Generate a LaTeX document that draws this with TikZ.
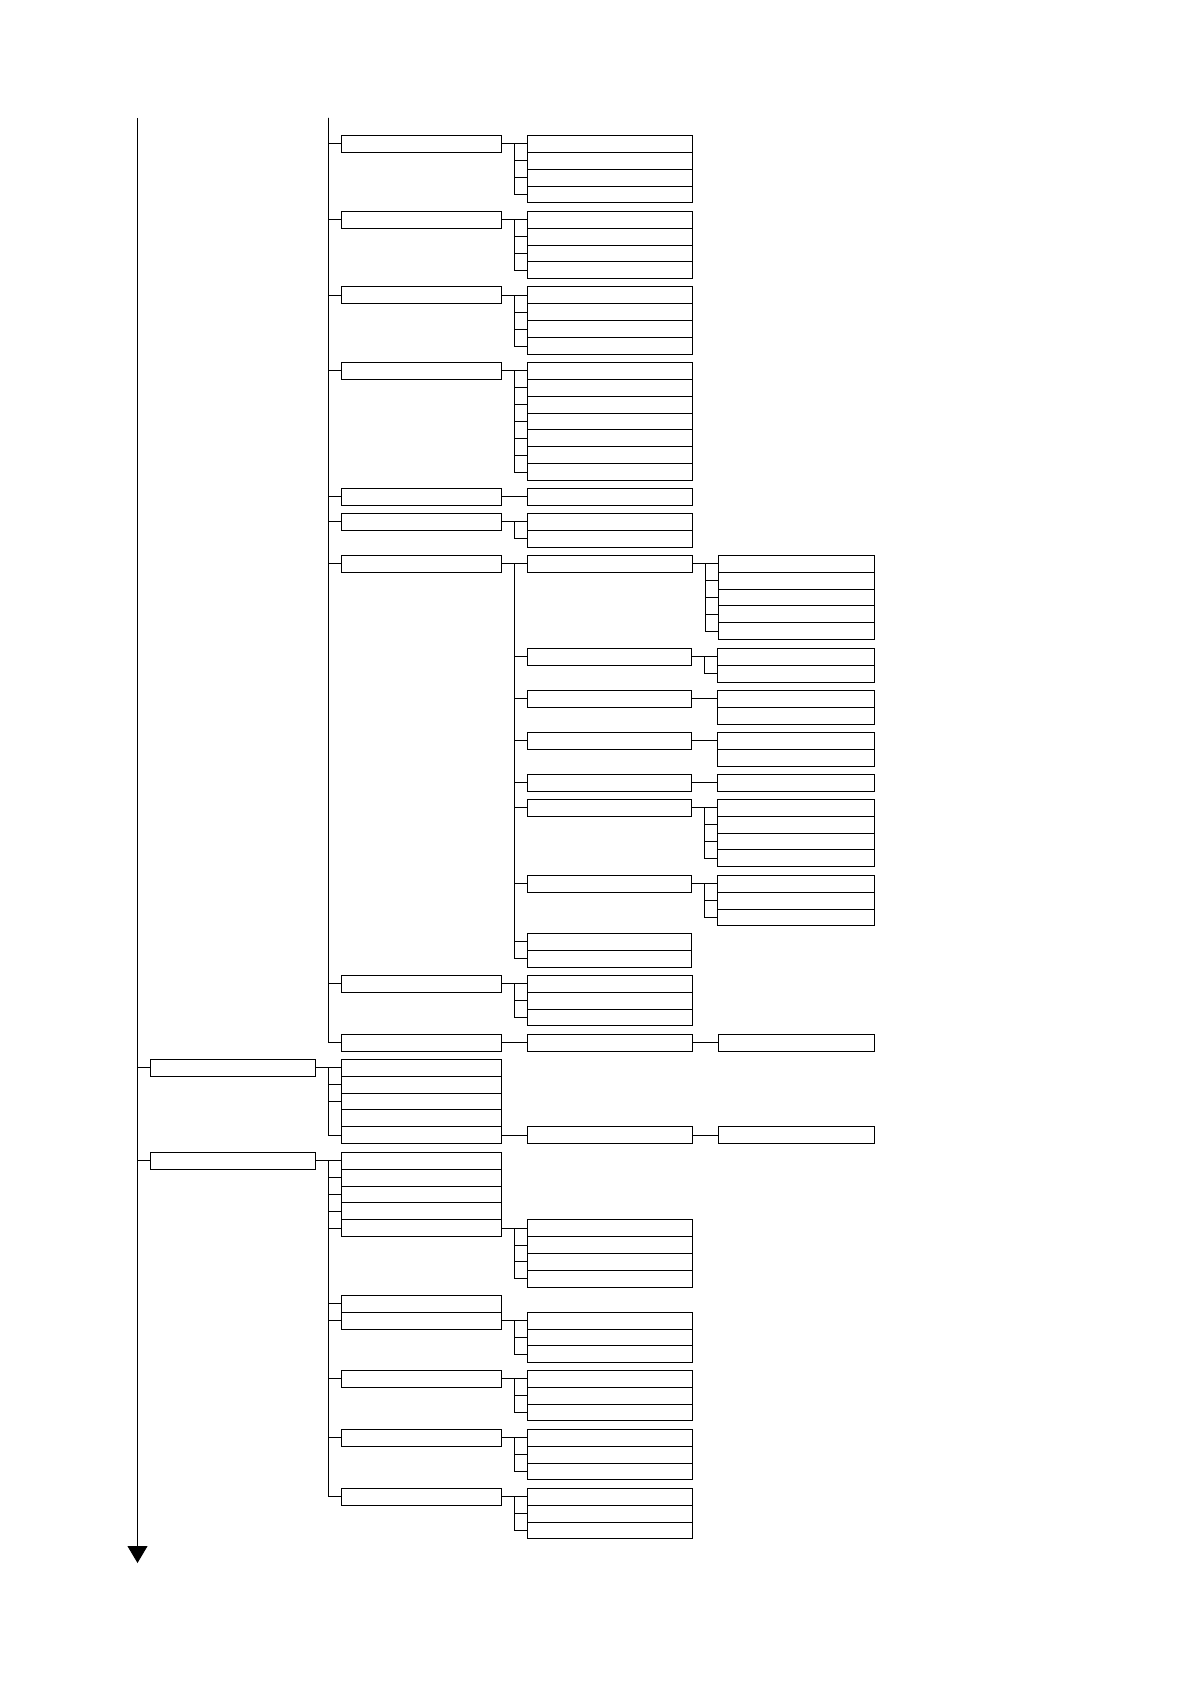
\documentclass[tikz,border=0pt]{standalone}
\usepackage{tikz}
\usetikzlibrary{arrows.meta,positioning}

\begin{document}
\begin{tikzpicture}[x=0.5pt,y=-0.5pt,
  cell/.style={draw,line width=0.5pt,inner sep=0pt,outer sep=0pt,minimum height=8.43pt},
  rootbox/.style={cell,minimum width=82.5pt},
  midbox/.style={cell,minimum width=80.2pt},
  subbox/.style={cell,minimum width=82.2pt},
  leafbox/.style={cell,minimum width=78.4pt},
  link/.style={line width=0.5pt},
  axis/.style={line width=0.4pt,-{Triangle[length=8.5pt,width=10pt]}}]
  \useasboundingbox (0,0) rectangle (1191,1684);
  \coordinate (head) at (137.5,118);
  \coordinate (tail) at (137.5,1563);
  \coordinate (spine) at (328.7,118);
  % first block, its parent lies above the page
  \node[midbox,anchor=north west] (a1) at (341.3,135.5) {};
  \node[subbox,right=13pt of a1] (a1a) {};
  \node[subbox,below=0pt of a1a] (a1b) {};
  \node[subbox,below=0pt of a1b] (a1c) {};
  \node[subbox,below=0pt of a1c] (a1d) {};
  \node[midbox,anchor=north west] (a2) at (341.3,211.3) {};
  \node[subbox,right=13pt of a2] (a2a) {};
  \node[subbox,below=0pt of a2a] (a2b) {};
  \node[subbox,below=0pt of a2b] (a2c) {};
  \node[subbox,below=0pt of a2c] (a2d) {};
  \node[midbox,anchor=north west] (a3) at (341.3,287) {};
  \node[subbox,right=13pt of a3] (a3a) {};
  \node[subbox,below=0pt of a3a] (a3b) {};
  \node[subbox,below=0pt of a3b] (a3c) {};
  \node[subbox,below=0pt of a3c] (a3d) {};
  \node[midbox,anchor=north west] (a4) at (341.3,362.5) {};
  \node[subbox,right=13pt of a4] (a4a) {};
  \node[subbox,below=0pt of a4a] (a4b) {};
  \node[subbox,below=0pt of a4b] (a4c) {};
  \node[subbox,below=0pt of a4c] (a4d) {};
  \node[subbox,below=0pt of a4d] (a4e) {};
  \node[subbox,below=0pt of a4e] (a4f) {};
  \node[subbox,below=0pt of a4f] (a4g) {};
  \node[midbox,anchor=north west] (a5) at (341.3,488.3) {};
  \node[subbox,right=13pt of a5] (a5a) {};
  \node[midbox,anchor=north west] (a6) at (341.3,513.3) {};
  \node[subbox,right=13pt of a6] (a6a) {};
  \node[subbox,below=0pt of a6a] (a6b) {};
  \node[midbox,anchor=north west] (a7) at (341.3,555.3) {};
  \node[subbox,right=13pt of a7] (a7a) {};
  \node[leafbox,right=13pt of a7a] (a7a1) {};
  \node[leafbox,below=0pt of a7a1] (a7a2) {};
  \node[leafbox,below=0pt of a7a2] (a7a3) {};
  \node[leafbox,below=0pt of a7a3] (a7a4) {};
  \node[leafbox,below=0pt of a7a4] (a7a5) {};
  \node[subbox,anchor=north west] (a7b) at (527.3,648.3) {};
  \node[leafbox,right=13pt of a7b] (a7b1) {};
  \node[leafbox,below=0pt of a7b1] (a7b2) {};
  \node[subbox,anchor=north west] (a7c) at (527.3,690.3) {};
  \node[leafbox,right=13pt of a7c] (a7c1) {};
  \node[leafbox,below=0pt of a7c1] (a7c2) {};
  \node[subbox,anchor=north west] (a7d) at (527.3,732.3) {};
  \node[leafbox,right=13pt of a7d] (a7d1) {};
  \node[leafbox,below=0pt of a7d1] (a7d2) {};
  \node[subbox,anchor=north west] (a7e) at (527.3,774.3) {};
  \node[leafbox,right=13pt of a7e] (a7e1) {};
  \node[subbox,anchor=north west] (a7f) at (527.3,799.3) {};
  \node[leafbox,right=13pt of a7f] (a7f1) {};
  \node[leafbox,below=0pt of a7f1] (a7f2) {};
  \node[leafbox,below=0pt of a7f2] (a7f3) {};
  \node[leafbox,below=0pt of a7f3] (a7f4) {};
  \node[subbox,anchor=north west] (a7g) at (527.3,875.3) {};
  \node[leafbox,right=13pt of a7g] (a7g1) {};
  \node[leafbox,below=0pt of a7g1] (a7g2) {};
  \node[leafbox,below=0pt of a7g2] (a7g3) {};
  \node[subbox,anchor=north west] (a7h) at (527.3,933.3) {};
  \node[subbox,below=0pt of a7h] (a7i) {};
  \node[midbox,anchor=north west] (a8) at (341.3,975.3) {};
  \node[subbox,right=13pt of a8] (a8a) {};
  \node[subbox,below=0pt of a8a] (a8b) {};
  \node[subbox,below=0pt of a8b] (a8c) {};
  \node[midbox,anchor=north west] (a9) at (341.3,1034.3) {};
  \node[subbox,right=13pt of a9] (a9a) {};
  \node[leafbox,right=13pt of a9a] (a9a1) {};
  % second block
  \node[rootbox,anchor=north west] (b) at (150.3,1059.3) {};
  \node[midbox,right=13pt of b] (b1) {};
  \node[midbox,below=0pt of b1] (b2) {};
  \node[midbox,below=0pt of b2] (b3) {};
  \node[midbox,below=0pt of b3] (b4) {};
  \node[midbox,below=0pt of b4] (b5) {};
  \node[subbox,right=13pt of b5] (b5a) {};
  \node[leafbox,right=13pt of b5a] (b5a1) {};
  % third block
  \node[rootbox,anchor=north west] (c) at (150.3,1152.3) {};
  \node[midbox,right=13pt of c] (c1) {};
  \node[midbox,below=0pt of c1] (c2) {};
  \node[midbox,below=0pt of c2] (c3) {};
  \node[midbox,below=0pt of c3] (c4) {};
  \node[midbox,below=0pt of c4] (c5) {};
  \node[subbox,right=13pt of c5] (c5a) {};
  \node[subbox,below=0pt of c5a] (c5b) {};
  \node[subbox,below=0pt of c5b] (c5c) {};
  \node[subbox,below=0pt of c5c] (c5d) {};
  \node[midbox,anchor=north west] (c6) at (341.3,1295.3) {};
  \node[midbox,below=0pt of c6] (c7) {};
  \node[subbox,right=13pt of c7] (c7a) {};
  \node[subbox,below=0pt of c7a] (c7b) {};
  \node[subbox,below=0pt of c7b] (c7c) {};
  \node[midbox,anchor=north west] (c8) at (341.3,1370.3) {};
  \node[subbox,right=13pt of c8] (c8a) {};
  \node[subbox,below=0pt of c8a] (c8b) {};
  \node[subbox,below=0pt of c8b] (c8c) {};
  \node[midbox,anchor=north west] (c9) at (341.3,1429.3) {};
  \node[subbox,right=13pt of c9] (c9a) {};
  \node[subbox,below=0pt of c9a] (c9b) {};
  \node[subbox,below=0pt of c9b] (c9c) {};
  \node[midbox,anchor=north west] (c10) at (341.3,1488.3) {};
  \node[subbox,right=13pt of c10] (c10a) {};
  \node[subbox,below=0pt of c10a] (c10b) {};
  \node[subbox,below=0pt of c10b] (c10c) {};
  % time line and brackets
  \draw[axis] (head) -- (tail);
  \draw[link] (b.west) -- (b.west -| head);
  \draw[link] (c.west) -- (c.west -| head);
  \foreach \n in {a1,a2,a3,a4,a5,a6,a7,a8,a9}
    \draw[link] (spine) |- (\n.west);
  \foreach \p/\n in {a1/a1a,a2/a2a,a3/a3a,a4/a4a,a5/a5a,a6/a6a,a7/a7a,a8/a8a,a9/a9a,
      a7a/a7a1,a7b/a7b1,a7c/a7c1,a7d/a7d1,a7e/a7e1,a7f/a7f1,a7g/a7g1,a9a/a9a1,
      b/b1,b5/b5a,b5a/b5a1,c/c1,c5/c5a,c7/c7a,c8/c8a,c9/c9a,c10/c10a}
    \draw[link] (\p.east) -- (\n.west);
  \foreach \p/\n in {a1/a1b,a1/a1c,a1/a1d,a2/a2b,a2/a2c,a2/a2d,a3/a3b,a3/a3c,a3/a3d,
      a4/a4b,a4/a4c,a4/a4d,a4/a4e,a4/a4f,a4/a4g,a6/a6b,
      a7/a7b,a7/a7c,a7/a7d,a7/a7e,a7/a7f,a7/a7g,a7/a7h,a7/a7i,
      a7a/a7a2,a7a/a7a3,a7a/a7a4,a7a/a7a5,a7b/a7b2,a7f/a7f2,a7f/a7f3,a7f/a7f4,
      a7g/a7g2,a7g/a7g3,a8/a8b,a8/a8c,b/b2,b/b3,b/b5,
      c/c2,c/c3,c/c4,c/c5,c/c6,c/c7,c/c8,c/c9,c/c10,c5/c5b,c5/c5c,c5/c5d,
      c7/c7b,c7/c7c,c8/c8b,c8/c8c,c9/c9b,c9/c9c,c10/c10b,c10/c10c}
    \draw[link] ([xshift=6.5pt]\p.east) |- (\n.west);
\end{tikzpicture}
\end{document}
